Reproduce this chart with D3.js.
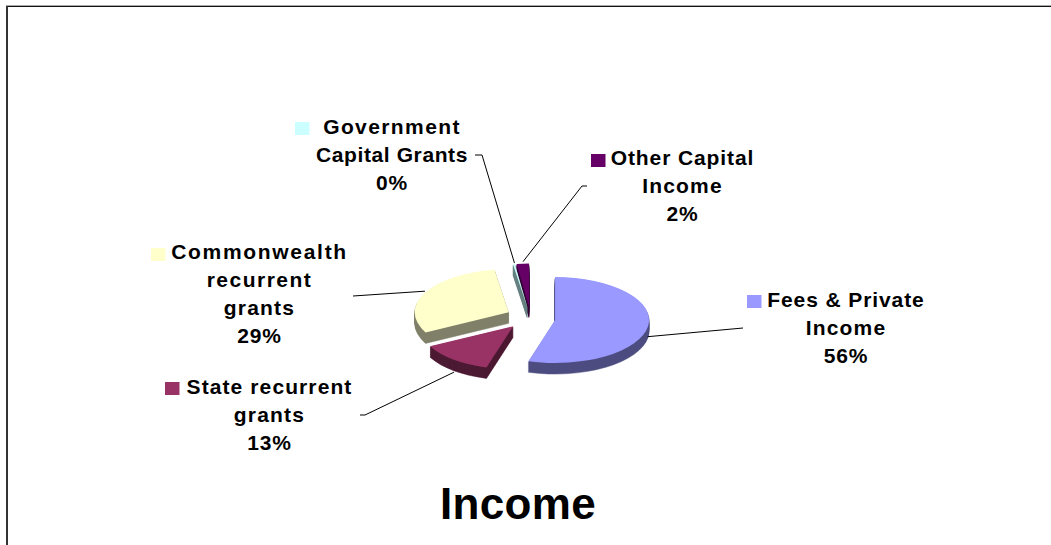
<!DOCTYPE html>
<html>
<head>
<meta charset="utf-8">
<script src="https://cdnjs.cloudflare.com/ajax/libs/d3/7.8.5/d3.min.js"></script>
<style>
html,body{margin:0;padding:0;background:#fff;overflow:hidden}
text{font-family:"Liberation Sans",Arial,sans-serif;font-weight:bold;fill:#000}
</style>
</head>
<body>
<script>
// Income sources, as a share of the total (percent)
const categories = ["Fees & Private Income", "State recurrent grants", "Commonwealth recurrent grants", "Government Capital Grants", "Other Capital Income"];
const shares = [55.7, 13, 29, 0.3, 2];
const topColours = ["#9999ff", "#993366", "#ffffcc", "#ccffff", "#660066"];
const wallColours = ["#4d4d80", "#4d1a33", "#80806a", "#668080", "#330033"];
const labelLines = [
  ["Fees & Private", "Income"],
  ["State recurrent", "grants"],
  ["Commonwealth", "recurrent", "grants"],
  ["Government", "Capital Grants"],
  ["Other Capital", "Income"]
];
const chartTitle = "Income";

// Layout of the tilted, exploded pie
const W = 1051, H = 545;
const centre = {x: 530.5, y: 318};
const rx = 94, ry = 43, depth = 11, explode = 0.266;

// Where each label block sits: centre x, first baseline, legend-key x/y,
// leader route, tip nudge, and tracking for each text line
const labelLayout = [
  {cx: 846, y: 307, key: 747, keyY: 295, elbow: [[743, 328]], tip: [0, 9], track: [0.9, 1.2, 0.8]},
  {cx: 269.5, y: 394, key: 165, keyY: 382, elbow: [[360, 415], [365, 415]], tip: [6, 15], track: [1.1, 1.2, 0.8]},
  {cx: 259.5, y: 259, key: 151, keyY: 248, elbow: [[353, 296]], tip: [-2, 0], track: [1.7, 1.5, 1.2, 0.8]},
  {cx: 392, y: 134, key: 295, keyY: 122, elbow: [[475, 155], [482, 155]], tip: [0, -1], track: [1.4, 0.6, 0.8]},
  {cx: 682.5, y: 165, key: 591, keyY: 154, elbow: [[587, 186], [582, 186]], tip: [0, -2], track: [0.9, 1.2, 0.8]}
];

const svg = d3.select("body").append("svg")
  .attr("width", W).attr("height", H)
  .style("display", "block");

// Chart frame: only the top and left edges fall inside the page
svg.append("line").attr("x1", 6).attr("x2", W).attr("y1", 5.5).attr("y2", 5.5)
  .attr("stroke", "#aaa").attr("stroke-width", 1);
svg.append("line").attr("x1", 6).attr("x2", W).attr("y1", 6.5).attr("y2", 6.5)
  .attr("stroke", "#111").attr("stroke-width", 1);
svg.append("line").attr("x1", 7).attr("x2", 7).attr("y1", 6).attr("y2", H)
  .attr("stroke", "#333").attr("stroke-width", 2);

const pie = d3.pie().sort(null).startAngle(0).endAngle(2 * Math.PI);
const slices = pie(shares);
// Foreshortening: seen in perspective, the near side of the disc turns through less angle
const perspective = d3.scaleLinear()
  .domain([0, 3.5, 4.34, 2 * Math.PI])
  .range([0, 3.43, 4.25, 2 * Math.PI]);
// The arc is drawn on a unit circle and squashed into an ellipse by the transform
const arc = d3.arc().innerRadius(0).outerRadius(1)
  .startAngle(s => perspective(s.startAngle))
  .endAngle(s => perspective(s.endAngle));
const xR = d3.scaleLinear().domain([-1, 1]).range([-rx, rx]);
const yR = d3.scaleLinear().domain([-1, 1]).range([-ry, ry]);

const sliceCentre = s => {
  const mid = (s.startAngle + s.endAngle) / 2;
  return {
    x: centre.x + explode * xR(Math.sin(mid)),
    y: centre.y + explode * yR(-Math.cos(mid))
  };
};

const pieG = svg.append("g");
// Paint back to front so nearer slices sit over farther ones
const order = slices.map((s, i) => ({s, i})).sort((a, b) => sliceCentre(a.s).y - sliceCentre(b.s).y);
order.forEach(({s, i}) => {
  const c = sliceCentre(s);
  // The wall is the same sector swept downward, one pixel at a time
  d3.range(depth, 0, -1).forEach(d => {
    pieG.append("path")
      .attr("d", arc(s))
      .attr("transform", `translate(${c.x},${c.y + d}) scale(${rx},${ry})`)
      .attr("fill", wallColours[i])
      .attr("stroke", wallColours[i])
      .attr("stroke-width", 0.5)
      .attr("vector-effect", "non-scaling-stroke");
  });
  pieG.append("path")
    .attr("d", arc(s))
    .attr("transform", `translate(${c.x},${c.y}) scale(${rx},${ry})`)
    .attr("fill", topColours[i]);
});

// Leaders run from the label to the slice's outer edge at its middle angle
const leader = d3.line();
slices.forEach((s, i) => {
  const c = sliceCentre(s), mid = (s.startAngle + s.endAngle) / 2, L = labelLayout[i];
  const tip = [c.x + xR(Math.sin(mid)) + L.tip[0], c.y + yR(-Math.cos(mid)) + L.tip[1]];
  svg.append("path")
    .attr("d", leader([...L.elbow, tip]))
    .attr("fill", "none").attr("stroke", "#000").attr("stroke-width", 1);
});

// Legend keys and data labels
const lineGap = 28;
slices.forEach((s, i) => {
  const L = labelLayout[i];
  svg.append("rect")
    .attr("x", L.key).attr("y", L.keyY)
    .attr("width", 14.5).attr("height", 13)
    .attr("fill", topColours[i]);
  const t = svg.append("text")
    .attr("text-anchor", "middle")
    .attr("font-size", 21);
  [...labelLines[i], Math.round(s.data) + "%"].forEach((line, k) => {
    t.append("tspan")
      .attr("x", L.cx).attr("y", L.y + k * lineGap)
      .attr("letter-spacing", L.track[k])
      .text(line);
  });
});

svg.append("text")
  .attr("x", 518).attr("y", 519)
  .attr("text-anchor", "middle")
  .attr("font-size", 44)
  .attr("letter-spacing", 0.3)
  .text(chartTitle);
</script>
</body>
</html>
